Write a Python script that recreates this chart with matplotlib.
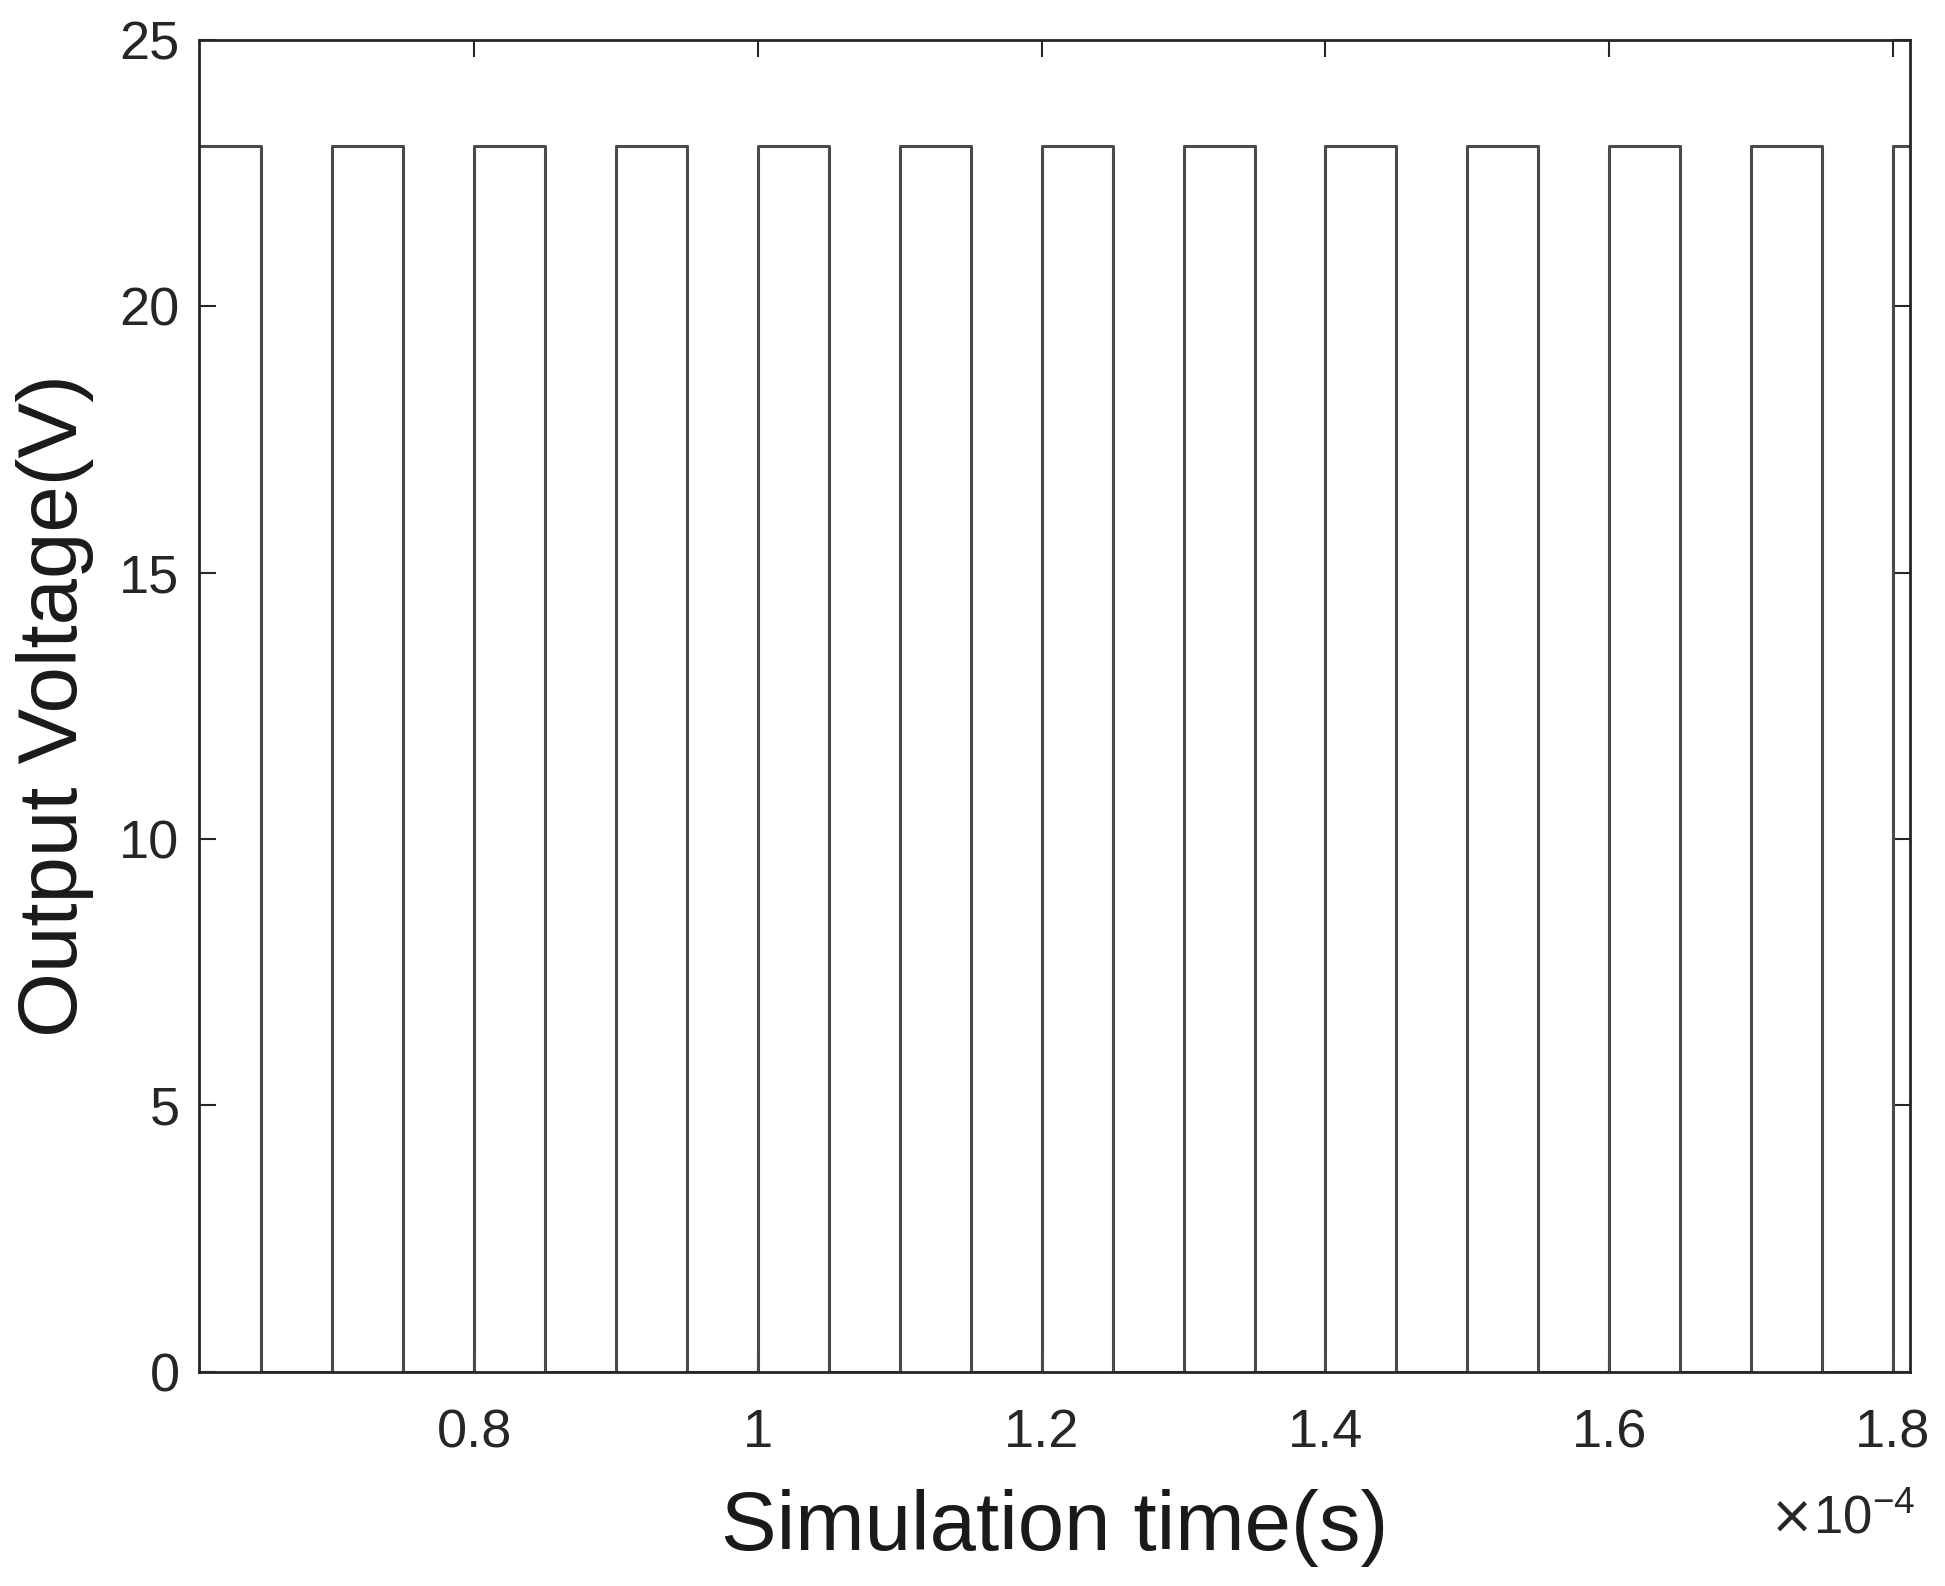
import matplotlib.pyplot as plt

plt.rcParams["font.family"] = ["Liberation Sans", "DejaVu Sans"]

# switching instants (x1e-4 s) and output level after each instant (V)
t_switch = [0.606, 0.65, 0.70, 0.75, 0.80, 0.85, 0.90, 0.95, 1.00, 1.05, 1.10,
            1.15, 1.20, 1.25, 1.30, 1.35, 1.40, 1.45, 1.50, 1.55, 1.60, 1.65,
            1.70, 1.75, 1.80, 1.812]
v_level = [23, 0, 23, 0, 23, 0, 23, 0, 23, 0, 23,
           0, 23, 0, 23, 0, 23, 0, 23, 0, 23, 0,
           23, 0, 23, 23]

fig = plt.figure(figsize=(19.45, 15.86), dpi=100)
ax = fig.add_axes([0.1023, 0.135, 0.8797, 0.840])

ax.step([t * 1e-4 for t in t_switch], v_level, where="post",
        color="#4a4a4a", linewidth=2.2)

ax.set_xlim(0.606e-4, 1.812e-4)
ax.set_ylim(0, 25)
ax.set_xticks([0.8e-4, 1.0e-4, 1.2e-4, 1.4e-4, 1.6e-4, 1.8e-4])
ax.set_xticklabels(["0.8", "1", "1.2", "1.4", "1.6", "1.8"])
ax.set_yticks([0, 5, 10, 15, 20, 25])

ax.tick_params(direction="in", length=12, width=1.5, labelsize=39,
               colors="#262626", top=True, right=True, pad=14)
ax.tick_params(axis="x", pad=26)
for s in ax.spines.values():
    s.set_linewidth(2)
    s.set_color("#262626")

ax.set_xlabel("Simulation time(s)", fontsize=60, color="#1a1a1a", labelpad=22)
ax.set_ylabel("Output Voltage(V)", fontsize=60, color="#1a1a1a", labelpad=18)
fig.text(0.985, 0.033, r"$\times$10$^{\mathregular{-4}}$", fontsize=38,
         ha="right", color="#262626")

fig.savefig("out.png", dpi=100)
